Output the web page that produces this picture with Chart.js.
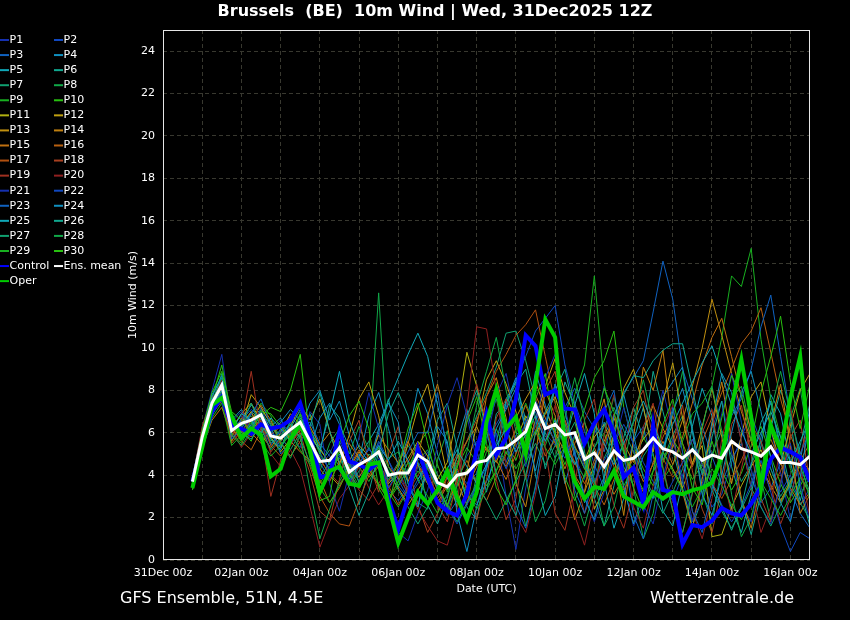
<!DOCTYPE html>
<html>
<head>
<meta charset="utf-8">
<title>Brussels 10m Wind - GFS Ensemble</title>
<script src="https://cdn.jsdelivr.net/npm/chart.js@4.4.1/dist/chart.umd.min.js"></script>
<style>
  html, body { margin: 0; padding: 0; background: #000; }
  canvas { display: block; }
</style>
</head>
<body>
<canvas id="windChart" width="850" height="620"></canvas>
<script>
// run 31Dec2025 12Z, 6-hourly steps out to +384h
const runStartDay = 0.5;
const leadHours = [];
for (let h = 6; h <= 384; h += 6) leadHours.push(h);

const xTickLabels = ['31Dec 00z', '02Jan 00z', '04Jan 00z', '06Jan 00z', '08Jan 00z',
                     '10Jan 00z', '12Jan 00z', '14Jan 00z', '16Jan 00z'];
const xGridDays = [0, 1, 2, 3, 4, 5, 6, 7, 8, 9, 10, 11, 12, 13, 14, 15, 16];
const yTickValues = [0, 2, 4, 6, 8, 10, 12, 14, 16, 18, 20, 22, 24];

// 10m wind (m/s)
const control = [
  3.7, 5.5, 7.0, 7.7, 6.3, 6.2, 5.95, 6.4,  6.2, 6.3, 6.6, 7.4, 5.9, 3.9, 4.0, 6.1,
  4.65, 4.5, 4.25, 4.6, 2.9, 1.45, 2.95, 5.25,  3.85, 2.7, 2.3, 2.1, 3.1, 5.2, 6.9, 4.95,
  5.75, 7.6, 10.6, 10.1, 7.8, 8.0, 7.15, 7.1,  5.5, 6.45, 7.1, 6.0, 3.9, 4.35, 2.65, 6.35,
  3.3, 3.2, 0.75, 1.65, 1.55, 1.85, 2.45, 2.2,  2.1, 2.65, 3.45, 4.75, 5.3, 5.1, 4.85, 3.7
];
const oper = [
  3.4, 5.3, 7.3, 7.65, 6.8, 5.75, 6.2, 5.9,  3.95, 4.3, 5.7, 6.4, 5.2, 3.2, 4.2, 4.4,
  3.6, 3.5, 4.5, 4.6, 2.6, 0.8, 2.0, 3.2,  2.65, 3.3, 4.2, 2.95, 1.9, 3.2, 6.5, 8.05,
  6.2, 6.75, 5.0, 8.3, 11.35, 10.5, 5.3, 3.7,  2.9, 3.45, 3.35, 4.2, 3.0, 2.75, 2.5, 3.2,
  2.9, 3.2, 3.1, 3.3, 3.4, 3.65, 4.9, 7.2,  9.45, 6.75, 3.35, 6.35, 5.2, 7.65, 9.6, 4.9
];
const ensMean = [
  3.7, 5.8, 7.4, 8.25, 6.1, 6.45, 6.6, 6.85,  5.85, 5.75, 6.15, 6.5, 5.6, 4.65, 4.7, 5.3,
  4.15, 4.5, 4.75, 5.1, 4.0, 4.1, 4.1, 4.95,  4.65, 3.65, 3.45, 4.0, 4.1, 4.6, 4.7, 5.25,
  5.3, 5.65, 6.05, 7.3, 6.2, 6.4, 5.9, 6.0,  4.75, 5.05, 4.4, 5.15, 4.7, 4.8, 5.2, 5.75,
  5.25, 5.1, 4.8, 5.2, 4.7, 4.95, 4.8, 5.6,  5.25, 5.1, 4.9, 5.35, 4.6, 4.6, 4.5, 4.9
];

const p1 = [
  3.8, 6.2, 8.0, 9.7, 6.3, 6.8, 6.1, 7.2,  6.0, 5.6, 6.4, 7.0, 5.3, 4.4, 5.0, 6.1,
  4.8, 3.9, 4.6, 5.5, 3.6, 4.3, 3.0, 4.4,  5.1, 3.2, 2.4, 3.7, 4.9, 5.6, 4.3, 6.0,
  3.0, 0.5, 3.4, 5.3, 6.0, 5.4, 6.6, 4.9,  3.8, 6.0, 8.2, 6.3, 3.5, 1.6, 2.7, 6.2,
  8.0, 6.1, 3.3, 1.8, 3.4, 6.2, 7.5, 5.1,  2.6, 1.8, 3.9, 6.2, 4.1, 1.9, 3.6, 5.3
];
const p2 = [
  3.6, 5.9, 7.5, 8.4, 5.8, 6.0, 6.9, 6.4,  5.4, 6.2, 5.8, 6.6, 6.0, 5.1, 4.2, 4.9,
  3.7, 4.6, 5.2, 4.8, 3.3, 2.8, 3.5, 4.6,  3.9, 2.6, 3.0, 4.2, 3.6, 4.1, 5.8, 6.4,
  7.2, 8.5, 9.6, 10.8, 11.4, 12.0, 9.2, 7.4,  6.1, 4.5, 3.4, 4.8, 3.9, 5.6, 6.3, 4.4,
  3.5, 2.8, 4.0, 5.3, 3.7, 2.5, 3.1, 4.6,  5.8, 6.9, 5.5, 4.3, 3.2, 4.0, 2.6, 3.4
];
const p3 = [
  3.7, 6.0, 7.6, 8.0, 6.5, 5.9, 6.3, 7.0,  6.2, 5.3, 6.0, 6.8, 5.9, 4.6, 3.8, 5.4,
  4.1, 5.0, 4.4, 5.6, 4.7, 3.5, 2.9, 3.8,  4.4, 3.6, 2.1, 2.8, 3.5, 5.0, 6.2, 5.4,
  4.6, 5.9, 6.3, 7.0, 5.8, 6.4, 7.2, 8.1,  7.0, 6.2, 5.1, 6.8, 7.9, 8.6, 9.4, 11.7,
  14.1, 12.3, 9.0, 7.6, 6.3, 4.9, 3.6, 4.8,  5.5, 3.9, 2.7, 3.4, 4.6, 3.3, 2.2, 1.5
];
const p4 = [
  3.5, 5.7, 7.2, 7.9, 6.6, 7.1, 6.5, 5.8,  6.3, 6.7, 5.5, 6.2, 7.4, 8.0, 6.6, 7.5,
  5.9, 4.7, 6.8, 7.9, 6.2, 4.4, 5.8, 8.1,  6.9, 5.0, 3.8, 5.6, 7.1, 5.2, 3.2, 5.6,
  7.4, 8.6, 6.1, 8.9, 7.3, 5.8, 3.6, 5.2,  2.7, 4.3, 6.5, 5.6, 3.4, 1.7, 3.1, 5.3,
  7.7, 8.4, 9.1, 6.2, 4.0, 6.5, 8.8, 7.9,  5.6, 3.4, 5.8, 7.5, 5.1, 3.0, 4.7, 7.2
];
const p5 = [
  3.9, 6.1, 7.8, 8.6, 6.0, 6.6, 7.3, 6.9,  5.7, 5.2, 6.6, 7.2, 6.1, 5.3, 4.5, 5.0,
  3.8, 4.9, 5.6, 6.4, 7.5, 8.6, 9.7, 10.7,  9.6, 7.3, 5.4, 4.1, 3.0, 2.6, 3.7, 4.8,
  7.6, 8.4, 6.6, 4.0, 2.1, 3.0, 5.5, 7.3,  8.8, 6.9, 3.7, 1.5, 2.9, 5.6, 7.2, 5.0,
  2.3, 1.6, 3.7, 6.3, 8.1, 6.8, 4.0, 2.4,  1.3, 3.1, 5.4, 7.8, 6.9, 4.6, 2.8, 4.5
];
const p6 = [
  3.4, 5.5, 7.0, 7.6, 6.8, 6.2, 7.0, 6.6,  5.5, 5.9, 6.4, 5.8, 6.9, 5.0, 7.3, 6.7,
  4.4, 2.6, 4.3, 6.0, 7.6, 5.3, 3.1, 2.5,  4.8, 6.6, 7.4, 5.3, 2.5, 1.9, 4.5, 6.9,
  7.4, 8.3, 9.0, 6.7, 4.3, 6.0, 8.4, 7.3,  5.1, 2.9, 1.6, 3.5, 5.8, 7.2, 5.7, 8.9,
  7.0, 5.2, 3.4, 1.6, 2.9, 5.8, 7.5, 4.4,  2.8, 1.2, 3.1, 6.2, 8.0, 6.7, 3.3, 1.6
];
const p7 = [
  3.6, 5.8, 7.3, 8.8, 6.4, 5.7, 6.2, 7.1,  6.5, 5.8, 5.2, 6.0, 5.5, 4.5, 5.2, 4.4,
  3.5, 4.2, 5.0, 4.5, 3.8, 4.6, 5.4, 4.7,  5.2, 4.0, 3.3, 4.5, 5.6, 6.8, 7.9, 9.1,
  10.7, 10.8, 9.4, 7.6, 6.0, 4.8, 5.6, 6.5,  4.9, 3.6, 4.8, 5.8, 4.4, 3.5, 4.9, 5.6,
  4.7, 5.9, 6.8, 5.4, 4.1, 5.0, 6.1, 4.9,  3.7, 4.5, 5.6, 4.3, 3.0, 3.8, 4.4, 3.2
];
const p8 = [
  3.5, 5.6, 7.1, 8.3, 5.9, 6.5, 6.8, 6.3,  5.6, 6.1, 6.7, 6.3, 5.1, 4.2, 5.5, 6.2,
  5.0, 6.3, 5.2, 12.6, 4.8, 5.1, 3.6, 2.7,  2.4, 4.7, 6.1, 3.3, 1.8, 4.0, 6.2, 7.6,
  5.5, 3.8, 1.6, 3.5, 6.2, 8.3, 6.1, 3.0,  1.6, 3.3, 5.9, 7.7, 5.6, 3.4, 1.0, 2.2,
  5.0, 6.8, 8.9, 6.1, 3.2, 1.7, 4.5, 7.6,  8.2, 6.0, 3.8, 1.9, 3.5, 6.7, 8.1, 5.2
];
const p9 = [
  3.3, 5.4, 6.8, 7.9, 6.0, 5.5, 6.4, 7.4,  6.8, 5.4, 5.9, 6.9, 6.2, 5.0, 4.3, 4.8,
  3.9, 4.4, 3.7, 4.6, 3.2, 2.5, 3.3, 4.2,  3.6, 2.9, 2.2, 3.5, 4.3, 3.8, 5.1, 6.2,
  5.0, 6.1, 7.4, 6.3, 5.4, 6.7, 5.2, 4.6,  3.9, 5.3, 6.0, 4.7, 3.5, 4.4, 5.8, 4.9,
  3.8, 4.5, 5.6, 6.9, 7.4, 8.2, 10.5, 13.4,  12.9, 14.7, 10.4, 7.6, 5.8, 4.3, 3.1, 3.9
];
const p10 = [
  3.7, 5.9, 7.6, 9.2, 6.7, 6.1, 5.6, 6.8,  7.2, 7.0, 8.0, 9.7, 5.6, 3.6, 4.4, 5.1,
  4.0, 3.4, 4.1, 3.6, 2.8, 3.5, 4.3, 5.4,  6.1, 4.5, 3.2, 4.4, 5.3, 4.6, 3.5, 4.2,
  5.5, 4.7, 6.0, 7.2, 6.4, 5.6, 4.5, 5.8,  7.1, 8.6, 9.4, 10.8, 7.2, 5.4, 4.3, 3.5,
  4.6, 5.7, 4.9, 3.8, 4.5, 5.6, 4.2, 3.3,  4.1, 5.4, 6.3, 4.9, 3.6, 2.7, 3.5, 4.4
];
const p11 = [
  3.4, 5.6, 7.0, 7.7, 6.2, 6.9, 7.4, 6.5,  5.8, 5.1, 5.7, 6.1, 5.9, 5.2, 4.6, 5.8,
  4.7, 5.4, 4.9, 4.3, 3.6, 4.1, 4.8, 5.6,  4.9, 3.8, 4.6, 6.8, 9.8, 8.2, 6.3, 5.1,
  4.4, 5.6, 6.8, 5.9, 6.9, 7.7, 6.2, 5.3,  4.7, 5.8, 6.4, 5.2, 4.1, 4.9, 5.7, 6.3,
  5.1, 4.3, 3.4, 4.6, 5.4, 1.1, 1.2, 2.5,  3.5, 4.4, 5.2, 4.0, 2.8, 3.7, 4.5, 3.9
];
const p12 = [
  3.6, 5.8, 7.3, 8.1, 6.6, 6.3, 7.8, 7.2,  6.4, 5.6, 6.3, 7.3, 6.6, 7.6, 6.1, 4.5,
  5.9, 7.6, 8.4, 6.8, 4.4, 3.8, 5.5, 7.2,  8.3, 6.1, 4.0, 2.5, 4.2, 6.4, 8.5, 9.4,
  8.3, 7.0, 4.8, 6.6, 8.2, 9.5, 7.9, 6.8,  4.6, 2.4, 3.3, 6.0, 8.1, 9.0, 7.2, 5.1,
  7.5, 9.3, 6.7, 4.5, 6.3, 8.1, 5.8, 3.6,  5.9, 7.7, 8.4, 6.2, 4.5, 6.3, 8.0, 8.8
];
const p13 = [
  3.5, 5.7, 7.1, 7.8, 5.6, 6.4, 7.0, 5.9,  5.3, 6.0, 6.9, 6.4, 5.7, 4.8, 4.0, 3.5,
  4.3, 5.1, 4.5, 5.3, 4.1, 3.4, 2.6, 3.3,  4.0, 3.1, 3.9, 4.8, 5.6, 6.3, 5.2, 4.6,
  5.9, 6.7, 7.6, 8.4, 7.1, 6.0, 5.1, 4.0,  3.2, 4.5, 5.6, 6.7, 5.5, 4.6, 6.0, 7.3,
  6.2, 5.3, 6.6, 8.2, 10.0, 12.3, 10.6, 8.8,  7.0, 5.6, 4.4, 3.5, 2.7, 3.6, 4.8, 4.2
];
const p14 = [
  3.4, 5.5, 6.9, 7.5, 6.1, 5.8, 6.6, 7.3,  6.6, 5.5, 4.9, 5.6, 6.3, 5.4, 6.0, 5.2,
  4.5, 3.9, 4.7, 5.9, 5.2, 4.6, 3.7, 4.9,  6.8, 8.3, 6.4, 3.7, 2.6, 4.9, 7.7, 8.6,
  6.7, 3.6, 2.5, 5.0, 8.0, 6.8, 3.7, 1.9,  3.2, 6.1, 7.6, 4.9, 2.1, 5.8, 9.1, 8.0,
  9.9, 6.0, 3.2, 1.5, 3.8, 6.3, 8.4, 5.6,  2.9, 1.5, 3.5, 6.4, 8.3, 5.4, 2.2, 3.1
];
const p15 = [
  3.3, 5.3, 6.6, 7.2, 5.8, 6.7, 6.0, 5.5,  6.2, 6.4, 5.6, 5.1, 4.7, 4.3, 3.7, 4.6,
  5.5, 4.8, 3.9, 4.4, 3.7, 4.5, 5.6, 4.5,  3.6, 2.7, 3.5, 4.3, 3.4, 4.4, 5.3, 4.7,
  3.8, 5.0, 6.4, 7.8, 6.7, 5.5, 4.3, 5.5,  6.5, 5.3, 4.2, 3.1, 3.9, 4.8, 3.7, 4.5,
  5.6, 4.5, 5.8, 7.4, 9.2, 10.5, 11.4, 9.6,  7.7, 6.1, 4.9, 5.7, 4.6, 3.4, 2.6, 3.2
];
const p16 = [
  3.6, 5.7, 7.2, 8.0, 6.3, 5.6, 5.2, 6.1,  5.9, 6.3, 5.7, 6.5, 5.2, 3.8, 2.7, 3.4,
  4.4, 5.2, 4.3, 3.5, 2.9, 3.7, 4.6, 5.5,  4.4, 3.3, 2.6, 3.8, 4.7, 3.6, 2.8, 3.9,
  5.0, 6.2, 7.3, 6.1, 4.9, 5.7, 6.6, 5.4,  4.3, 3.5, 2.6, 3.8, 4.9, 4.1, 3.2, 4.6,
  5.8, 6.8, 5.5, 4.4, 5.6, 6.7, 7.9, 9.0,  10.2, 10.8, 11.9, 9.8, 7.6, 5.9, 4.7, 5.5
];
const p17 = [
  3.5, 5.6, 7.0, 7.7, 5.5, 6.1, 5.8, 6.8,  5.4, 4.9, 5.6, 6.0, 4.4, 3.0, 2.2, 1.7,
  1.6, 2.8, 4.0, 4.7, 3.5, 2.6, 3.4, 4.5,  3.8, 2.9, 3.6, 4.6, 5.6, 6.6, 7.7, 8.9,
  9.7, 10.6, 11.1, 11.8, 9.6, 7.4, 5.8, 4.6,  3.6, 4.7, 5.5, 4.4, 3.3, 4.1, 5.1, 6.0,
  4.8, 3.9, 4.6, 5.7, 4.5, 3.6, 2.9, 3.8,  4.7, 5.8, 4.5, 3.3, 4.2, 5.3, 4.0, 3.1
];
const p18 = [
  3.7, 6.0, 7.5, 8.1, 6.9, 6.0, 6.7, 6.3,  5.1, 5.7, 6.1, 5.5, 4.1, 2.3, 1.9, 3.8,
  5.6, 6.6, 4.6, 3.2, 5.0, 6.3, 4.5, 2.6,  1.3, 2.2, 4.0, 5.0, 3.2, 1.9, 3.8, 6.7,
  7.6, 5.5, 3.8, 6.0, 8.0, 8.9, 6.5, 4.1,  2.2, 3.4, 5.4, 6.9, 5.0, 7.2, 8.0, 5.7,
  3.6, 5.5, 7.3, 4.2, 2.4, 1.3, 3.4, 6.4,  7.3, 5.0, 2.9, 1.8, 3.7, 5.8, 6.6, 3.6
];
const p19 = [
  3.8, 6.3, 7.7, 7.9, 6.0, 6.4, 8.9, 6.0,  3.0, 4.7, 5.4, 6.2, 5.8, 4.7, 4.1, 3.6,
  4.2, 3.3, 2.8, 3.6, 4.4, 3.9, 3.2, 4.0,  4.7, 2.6, 1.8, 3.7, 6.6, 8.3, 6.5, 3.8,
  1.9, 2.9, 5.8, 7.7, 5.3, 2.2, 1.4, 3.5,  6.6, 7.6, 4.5, 2.6, 1.5, 3.3, 6.3, 7.4,
  4.4, 2.4, 1.3, 3.1, 6.0, 7.1, 4.1, 2.2,  4.3, 6.4, 5.6, 3.5, 1.7, 2.9, 5.0, 6.4
];
const p20 = [
  3.6, 5.8, 7.4, 8.5, 6.2, 5.3, 6.0, 6.6,  5.0, 4.4, 5.2, 4.3, 2.5, 0.6, 1.8, 2.9,
  3.5, 4.4, 3.4, 2.6, 3.3, 4.2, 3.3, 2.4,  1.6, 0.9, 0.7, 2.4, 7.2, 11.0, 10.9, 8.0,
  4.5, 2.1, 1.3, 3.1, 5.6, 7.3, 5.2, 2.1,  0.7, 2.8, 5.9, 7.8, 5.6, 2.5, 1.5, 3.5,
  6.2, 7.3, 4.4, 2.3, 1.0, 2.9, 5.7, 7.6,  5.6, 3.4, 1.3, 2.5, 5.5, 7.3, 4.4, 2.0
];
const p21 = [
  3.5, 5.6, 7.2, 8.0, 6.5, 7.0, 6.2, 5.7,  6.1, 6.6, 5.9, 5.3, 7.0, 6.4, 3.6, 2.3,
  4.1, 5.8, 7.9, 6.2, 3.1, 1.3, 0.9, 2.2,  3.3, 5.4, 7.3, 8.6, 6.8, 4.7, 5.6, 7.8,
  8.8, 6.6, 4.4, 6.5, 8.6, 9.7, 7.2, 5.1,  3.0, 1.8, 3.2, 5.3, 7.2, 5.4, 2.6, 1.7,
  3.9, 5.7, 3.8, 1.9, 2.8, 4.8, 6.9, 8.8,  6.5, 4.3, 2.5, 1.7, 3.6, 5.5, 3.6, 1.8
];
const p22 = [
  3.4, 5.5, 6.9, 7.8, 6.2, 6.6, 7.1, 6.7,  5.8, 6.0, 6.8, 6.2, 5.5, 4.9, 4.3, 5.6,
  4.6, 3.7, 4.5, 5.4, 4.7, 3.8, 2.9, 3.6,  4.5, 3.4, 2.5, 1.7, 2.6, 3.5, 4.4, 5.3,
  4.3, 5.3, 6.5, 7.5, 6.5, 5.6, 4.8, 5.9,  4.4, 3.7, 4.7, 5.5, 6.4, 5.5, 4.6, 3.7,
  2.8, 3.7, 4.6, 5.7, 4.5, 3.6, 2.6, 1.8,  2.5, 3.6, 4.7, 3.2, 1.6, 0.4, 1.3, 1.0
];
const p23 = [
  3.6, 5.8, 7.4, 8.3, 5.7, 6.2, 6.9, 7.6,  6.3, 5.0, 5.5, 6.4, 6.5, 5.5, 4.9, 4.2,
  3.6, 4.5, 5.3, 4.5, 3.4, 4.2, 5.1, 6.0,  6.0, 7.9, 5.0, 2.9, 1.8, 3.7, 6.8, 7.9,
  5.7, 2.6, 1.5, 3.4, 6.4, 8.3, 6.2, 3.3,  2.2, 4.1, 7.0, 8.0, 5.1, 2.1, 1.0, 3.1,
  5.2, 7.2, 5.1, 2.3, 1.3, 3.3, 5.3, 6.8,  7.6, 9.0, 11.0, 12.5, 9.6, 6.8, 5.0, 6.1
];
const p24 = [
  3.7, 6.0, 7.7, 8.7, 6.4, 5.8, 6.4, 6.9,  6.0, 6.5, 7.1, 6.6, 5.3, 6.7, 7.4, 6.4,
  5.3, 3.6, 4.5, 6.2, 7.4, 6.5, 3.6, 2.5,  4.4, 6.3, 5.6, 2.2, 0.4, 2.5, 4.3, 6.2,
  7.1, 8.1, 6.1, 4.2, 6.2, 8.1, 7.0, 5.0,  2.9, 1.9, 3.8, 6.8, 7.8, 5.9, 3.9, 2.9,
  5.0, 7.0, 8.1, 6.1, 3.1, 2.1, 4.0, 6.0,  7.9, 8.9, 7.0, 4.8, 2.7, 1.8, 3.9, 6.7
];
const p25 = [
  3.5, 5.7, 7.3, 8.0, 6.1, 6.9, 6.6, 6.0,  6.7, 6.2, 5.6, 6.7, 5.8, 5.2, 6.9, 8.9,
  6.6, 5.3, 4.6, 5.4, 4.7, 5.6, 4.7, 3.8,  4.6, 3.5, 4.3, 5.2, 4.4, 3.6, 4.5, 5.4,
  6.2, 5.1, 5.9, 6.8, 5.6, 6.6, 5.4, 4.5,  5.5, 6.5, 5.5, 4.5, 5.5, 6.5, 7.5, 6.4,
  5.3, 6.4, 7.4, 8.4, 9.3, 10.1, 8.7, 7.3,  6.1, 5.0, 6.0, 7.0, 5.8, 4.6, 5.6, 6.6
];
const p26 = [
  3.4, 5.4, 6.8, 7.7, 6.7, 6.0, 5.7, 6.4,  5.7, 5.3, 6.2, 7.1, 6.3, 7.9, 6.1, 4.6,
  3.4, 2.1, 3.2, 5.1, 6.9, 7.9, 6.8, 4.6,  2.6, 1.7, 2.9, 4.9, 6.8, 8.0, 6.1, 4.1,
  3.0, 2.1, 4.0, 6.0, 7.0, 8.0, 9.0, 6.9,  4.8, 2.9, 3.9, 5.8, 7.8, 8.7, 8.6, 9.4,
  9.9, 10.2, 10.2, 8.1, 5.8, 3.6, 2.5, 1.4,  2.5, 4.5, 6.5, 7.4, 5.4, 3.4, 5.4, 7.4
];
const p27 = [
  3.6, 5.9, 7.5, 8.6, 6.6, 6.3, 7.4, 6.2,  5.2, 5.8, 6.5, 5.7, 4.6, 3.9, 4.6, 5.3,
  4.1, 3.4, 4.2, 5.1, 4.2, 3.3, 2.5, 1.7,  2.5, 3.4, 2.6, 1.8, 2.7, 3.6, 2.8, 1.9,
  2.8, 3.7, 4.6, 5.5, 4.5, 5.4, 6.4, 5.3,  4.3, 5.3, 6.3, 7.2, 6.1, 5.1, 4.0, 3.1,
  2.2, 3.2, 4.3, 5.3, 4.3, 3.3, 2.3, 1.5,  2.4, 3.4, 2.5, 1.6, 2.6, 3.6, 2.7, 1.9
];
const p28 = [
  3.5, 5.6, 7.0, 7.9, 5.9, 5.4, 6.1, 6.9,  6.4, 5.6, 4.8, 5.9, 3.3, 1.0, 2.4, 3.7,
  4.5, 3.7, 4.5, 5.3, 4.4, 3.5, 4.3, 5.2,  4.3, 3.4, 2.6, 3.5, 5.1, 7.3, 8.9, 10.5,
  8.0, 6.1, 3.9, 1.8, 2.8, 4.8, 6.7, 8.6,  6.6, 3.7, 1.6, 2.5, 4.5, 6.6, 8.5, 6.4,
  4.3, 2.3, 1.3, 3.2, 6.2, 8.2, 6.1, 3.1,  1.1, 2.0, 4.0, 7.0, 8.9, 6.9, 4.8, 2.8
];
const p29 = [
  3.3, 5.2, 6.7, 7.4, 5.4, 5.9, 6.5, 5.6,  4.9, 5.4, 6.0, 5.2, 4.5, 3.4, 2.7, 3.5,
  4.3, 3.5, 4.4, 3.6, 2.8, 3.7, 4.6, 3.8,  3.0, 2.2, 3.1, 4.0, 3.2, 2.4, 3.3, 4.2,
  5.1, 4.3, 5.2, 6.1, 5.3, 4.5, 5.4, 7.8,  9.2, 13.4, 8.3, 6.1, 5.1, 4.2, 3.3, 4.2,
  5.1, 4.2, 3.3, 2.5, 3.4, 4.3, 3.5, 2.6,  1.9, 2.8, 3.7, 2.9, 2.1, 3.0, 3.9, 3.1
];
const p30 = [
  3.7, 6.1, 7.9, 8.9, 7.0, 6.6, 6.0, 7.0,  6.9, 6.3, 5.8, 6.9, 4.8, 2.8, 3.0, 5.5,
  6.8, 7.5, 6.2, 3.4, 2.6, 4.4, 6.2, 7.4,  5.5, 3.7, 2.5, 4.3, 6.5, 7.7, 5.5, 3.4,
  2.6, 3.8, 5.7, 7.6, 8.8, 6.0, 3.9, 2.8,  4.0, 6.2, 8.1, 7.0, 5.2, 3.4, 2.3, 4.2,
  6.4, 7.6, 5.5, 3.4, 2.6, 4.8, 6.7, 8.7,  7.8, 5.6, 7.9, 9.6, 11.5, 8.4, 6.2, 8.3
];

const members = [p1, p2, p3, p4, p5, p6, p7, p8, p9, p10, p11, p12, p13, p14, p15,
                 p16, p17, p18, p19, p20, p21, p22, p23, p24, p25, p26, p27, p28, p29, p30];
const memberColors = [
  '#1530b0', '#1048c0', '#1062c0', '#1090c0', '#10a8b8', '#10a890', '#10a070', '#10a848', '#18b020', '#28c010',
  '#b0b010', '#c0a010', '#c09010', '#c08010', '#c07010', '#b86010', '#b05010', '#a84020', '#a03020', '#902020',
  '#1530b0', '#1048c0', '#1062c0', '#1090c0', '#10a8b8', '#10a890', '#10a070', '#10a848', '#18b020', '#28c010'
];

members.concat([control, oper, ensMean]).forEach(function (s, i) {
    if (s.length !== leadHours.length) throw new Error('series ' + i + ' has ' + s.length + ' values');
});

function toPoints(values) {
    return values.map(function (v, i) {
        return { x: runStartDay + leadHours[i] / 24, y: v };
    });
}

const datasets = members.map(function (vals, i) {
    return {
        label: 'P' + (i + 1),
        data: toPoints(vals),
        borderColor: memberColors[i],
        borderWidth: 1,
        order: 130 - i
    };
});
datasets.push({ label: 'Control', data: toPoints(control), borderColor: '#0000ff', borderWidth: 4, order: 3 });
datasets.push({ label: 'Oper', data: toPoints(oper), borderColor: '#00cc00', borderWidth: 4, order: 2 });
datasets.push({ label: 'Ens. mean', data: toPoints(ensMean), borderColor: '#ffffff', borderWidth: 3, order: 1 });

// legend rows as drawn on the left: two columns, then Control / Ens. mean / Oper
const legendItems = [];
for (let i = 0; i < 30; i++) legendItems.push({ text: 'P' + (i + 1), color: memberColors[i] });
legendItems.push({ text: 'Control', color: '#0000ff' });
legendItems.push({ text: 'Ens. mean', color: '#ffffff' });
legendItems.push({ text: 'Oper', color: '#00cc00' });

const chartDecor = {
    id: 'chartDecor',
    beforeDraw(chart) {
        const ctx = chart.ctx;
        ctx.save();
        ctx.fillStyle = '#000';
        ctx.fillRect(0, 0, chart.width, chart.height);
        ctx.restore();
    },
    afterDraw(chart) {
        const ctx = chart.ctx;
        const a = chart.chartArea;
        ctx.save();
        ctx.strokeStyle = '#e6e6e6';
        ctx.lineWidth = 1;
        ctx.strokeRect(a.left + 0.5, a.top + 0.5, a.right - a.left - 1, a.bottom - a.top - 1);

        ctx.fillStyle = '#fff';
        ctx.textBaseline = 'middle';
        ctx.textAlign = 'center';
        ctx.font = 'bold 16px "DejaVu Sans"';
        ctx.fillText('Brussels  (BE)  10m Wind | Wed, 31Dec2025 12Z', 435, 12);

        ctx.font = '11px "DejaVu Sans"';
        ctx.fillText('Date (UTC)', (a.left + a.right) / 2, 589);
        ctx.save();
        ctx.translate(133, (a.top + a.bottom) / 2);
        ctx.rotate(-Math.PI / 2);
        ctx.fillText('10m Wind (m/s)', 0, 0);
        ctx.restore();

        // legend
        ctx.textAlign = 'left';
        legendItems.forEach(function (item, k) {
            const col = k % 2, row = Math.floor(k / 2);
            const x0 = col === 0 ? 0 : 54;
            const y = 40 + row * 15.07;
            ctx.strokeStyle = item.color;
            ctx.lineWidth = 2;
            ctx.beginPath();
            ctx.moveTo(x0, y);
            ctx.lineTo(x0 + 9, y);
            ctx.stroke();
            ctx.fillStyle = '#fff';
            ctx.fillText(item.text, x0 + 9.5, y);
        });

        ctx.textBaseline = 'alphabetic';
        ctx.font = '16px "DejaVu Sans"';
        ctx.fillText('GFS Ensemble, 51N, 4.5E', 120, 603);
        ctx.textAlign = 'right';
        ctx.fillText('Wetterzentrale.de', 794, 603);
        ctx.restore();
    }
};

Chart.defaults.font.family = '"DejaVu Sans", sans-serif';
Chart.defaults.font.size = 11;
Chart.defaults.color = '#fff';

const ctx = document.getElementById('windChart').getContext('2d');
const windChart = new Chart(ctx, {
    type: 'line',
    data: { datasets: datasets },
    plugins: [chartDecor],
    options: {
        responsive: false,
        animation: false,
        devicePixelRatio: 1,
        layout: { padding: { left: 0, right: 40, top: 30, bottom: 0 } },
        elements: {
            point: { radius: 0 },
            line: { tension: 0, fill: false }
        },
        plugins: {
            legend: { display: false },
            tooltip: { enabled: false },
            title: { display: false }
        },
        scales: {
            x: {
                type: 'linear',
                min: 0,
                max: 16.5,
                afterFit: function (scale) { scale.height = 60; },
                afterBuildTicks: function (scale) {
                    scale.ticks = xGridDays.map(function (d) { return { value: d }; });
                },
                ticks: {
                    autoSkip: false,
                    maxRotation: 0,
                    padding: 7,
                    callback: function (value) {
                        return value % 2 === 0 ? xTickLabels[value / 2] : '';
                    }
                },
                grid: { color: '#38382f', drawTicks: false },
                border: { display: false, dash: [4, 3] }
            },
            y: {
                min: 0,
                max: 25,
                afterFit: function (scale) { scale.width = 163; },
                afterBuildTicks: function (scale) {
                    scale.ticks = yTickValues.map(function (v) { return { value: v }; });
                },
                ticks: { padding: 8 },
                grid: { color: '#38382f', drawTicks: false },
                border: { display: false, dash: [4, 3] }
            }
        }
    }
});
</script>
</body>
</html>
